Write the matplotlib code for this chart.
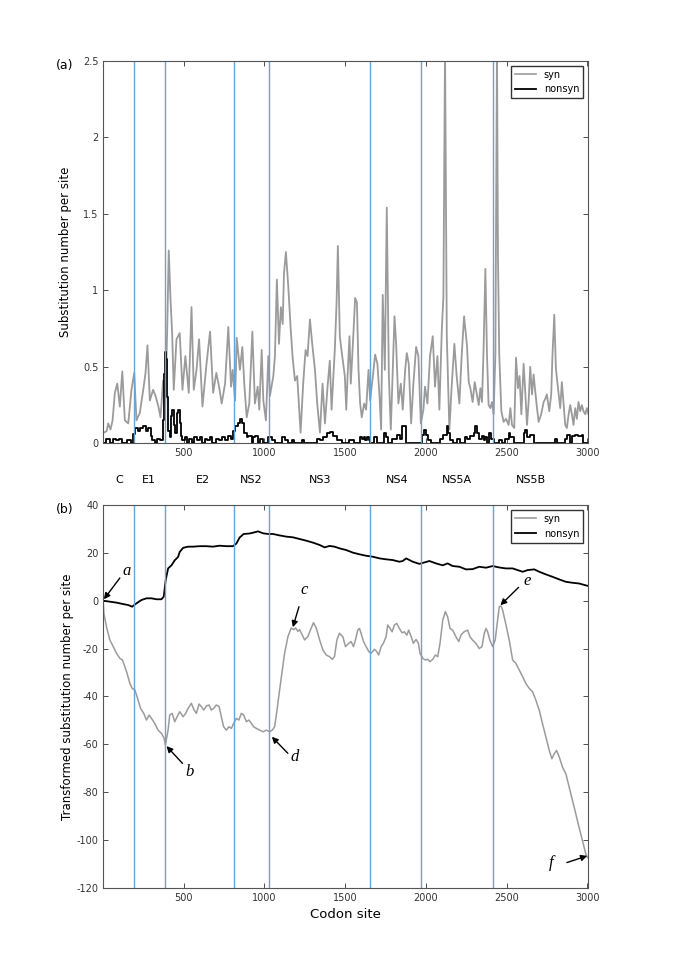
import matplotlib
matplotlib.use("Agg")
import matplotlib.pyplot as plt
from matplotlib.ticker import FormatStrFormatter
from matplotlib.lines import Line2D

plt.rcParams["font.family"] = ["DejaVu Sans"]
plt.rcParams["axes.unicode_minus"] = False

# gene boundaries (codon site) and region labels
boundaries = [191, 383, 809, 1026, 1657, 1972, 2419]
region_names = ["C", "E1", "E2", "NS2", "NS3", "NS4", "NS5A", "NS5B"]
region_sites = [100, 281, 621, 919, 1343, 1820, 2192, 2654]

# (a) windowed synonymous substitutions per site
syn_sites = [5, 22, 32, 46, 59, 73, 88, 104, 119, 135, 156, 176, 193, 207, 228, 249,
             263, 275, 290, 310, 325, 343, 356, 372, 385, 397, 407, 418, 428, 438, 455,
             475, 492, 510, 531, 548, 562, 579, 595, 616, 641, 663, 682, 702, 719,
             735, 756, 776, 793, 803, 818, 828, 848, 863, 875, 890, 906, 925, 941, 958,
             968, 983, 993, 1009, 1024, 1034, 1055, 1065, 1077, 1090, 1102, 1113, 1121,
             1133, 1148, 1162, 1174, 1189, 1203, 1224, 1240, 1255, 1267, 1282, 1296,
             1313, 1327, 1344, 1360, 1375, 1391, 1405, 1416, 1436, 1447, 1455, 1467,
             1482, 1498, 1507, 1515, 1527, 1535, 1548, 1562, 1573, 1583, 1593, 1603,
             1618, 1630, 1645, 1655, 1672, 1686, 1700, 1713, 1723, 1733, 1746, 1758,
             1771, 1783, 1795, 1806, 1816, 1830, 1845, 1857, 1872, 1882, 1894, 1909,
             1923, 1940, 1954, 1969, 1985, 1995, 2010, 2026, 2043, 2057, 2072, 2084,
             2099, 2109, 2119, 2130, 2146, 2160, 2177, 2191, 2208, 2222, 2237, 2255,
             2266, 2276, 2290, 2303, 2313, 2328, 2338, 2348, 2358, 2369, 2379, 2389,
             2400, 2410, 2420, 2431, 2441, 2447, 2455, 2468, 2482, 2497, 2513, 2524,
             2534, 2548, 2559, 2571, 2581, 2592, 2606, 2616, 2627, 2637, 2647, 2658,
             2668, 2678, 2689, 2699, 2715, 2730, 2740, 2750, 2765, 2777, 2785, 2796,
             2806, 2819, 2833, 2843, 2854, 2864, 2874, 2885, 2895, 2905, 2915, 2926,
             2936, 2946, 2957, 2967, 2977, 2988, 2998, 3008]
syn_vals = [0.07, 0.08, 0.13, 0.09, 0.15, 0.33, 0.39, 0.24, 0.47, 0.15, 0.13, 0.35, 0.46,
            0.15, 0.20, 0.35, 0.46, 0.64, 0.28, 0.35, 0.31, 0.24, 0.17, 0.41, 0.26, 0.72,
            1.26, 0.94, 0.72, 0.35, 0.68, 0.72, 0.35, 0.57, 0.33, 0.89, 0.35, 0.48, 0.68,
            0.24, 0.52, 0.73, 0.33, 0.46, 0.37,
            0.26, 0.39, 0.76, 0.37, 0.48, 0.28, 0.69, 0.48, 0.63, 0.39, 0.17, 0.26, 0.73,
            0.26, 0.37, 0.22, 0.61, 0.28, 0.15, 0.57, 0.31, 0.44, 0.57, 1.07, 0.65, 0.89,
            0.78, 1.11, 1.25, 1.02, 0.76, 0.57, 0.41, 0.44, 0.07, 0.39, 0.61, 0.57, 0.81,
            0.65, 0.48, 0.26, 0.07, 0.39, 0.13, 0.37, 0.54, 0.22, 0.61, 0.92, 1.29, 0.70,
            0.57, 0.44, 0.22, 0.44, 0.70, 0.39, 0.65, 0.95, 0.92, 0.48, 0.26, 0.17, 0.26,
            0.22, 0.48, 0.28, 0.44, 0.58, 0.52, 0.31, 0.09, 0.97, 0.48, 1.54, 0.44, 0.09,
            0.48, 0.83, 0.65, 0.26, 0.39, 0.22, 0.48, 0.59, 0.52, 0.13, 0.39, 0.63, 0.57,
            0.13, 0.22, 0.37, 0.26, 0.57, 0.70, 0.37, 0.57, 0.22, 0.74, 0.96, 2.6, 0.70,
            0.09, 0.37, 0.65, 0.44, 0.26, 0.57, 0.83, 0.64, 0.40, 0.36, 0.27, 0.40, 0.34,
            0.25, 0.36, 0.27, 0.62, 1.14, 0.58, 0.25, 0.23, 0.27, 0.19, 0.58, 2.6, 1.23,
            0.58, 0.21, 0.14, 0.16, 0.12, 0.23, 0.12, 0.10, 0.56, 0.36, 0.44, 0.19, 0.52,
            0.34, 0.12, 0.27, 0.50, 0.32, 0.45, 0.34, 0.23, 0.14, 0.19, 0.27, 0.29, 0.32,
            0.21, 0.32, 0.58, 0.84, 0.49, 0.36, 0.23, 0.40, 0.25, 0.12, 0.10, 0.19, 0.25,
            0.19, 0.12, 0.23, 0.16, 0.27, 0.21, 0.25, 0.21, 0.19, 0.23, 0.19]

# (a) nonsynonymous: step function (start site of each step, level)
non_sites = [0, 20, 45, 60, 80, 100, 120, 150, 170, 186, 195, 215, 230, 250, 265, 280,
             295, 305, 320, 335, 355, 370, 378, 384, 392, 398, 404, 412, 420, 430, 440,
             448, 456, 465, 475, 482, 492, 505, 520, 535, 550, 565, 580, 600, 615, 630,
             645, 660, 675, 700, 720, 740, 755, 775, 790, 805, 818, 834, 848, 863, 875,
             890, 900, 921, 931, 941, 958, 972, 993, 1024, 1044, 1065, 1106, 1127, 1148,
             1170, 1185, 1230, 1245, 1323, 1344, 1364, 1385, 1405, 1426, 1447, 1478,
             1521, 1552, 1593, 1603, 1614, 1624, 1634, 1645, 1655, 1676, 1700, 1738,
             1754, 1768, 1789, 1820, 1837, 1851, 1878, 1975, 1989, 2002, 2016, 2030,
             2088, 2109, 2130, 2140, 2150, 2171, 2191, 2212, 2243, 2255, 2276, 2297,
             2307, 2317, 2332, 2348, 2358, 2369, 2379, 2394, 2406, 2420, 2451, 2472,
             2493, 2513, 2524, 2544, 2606, 2616, 2627, 2647, 2668, 2798, 2812, 2864,
             2874, 2895, 2905, 2926, 2946, 2967, 2977, 3010]
non_vals = [0.0, 0.03, 0.0, 0.03, 0.02, 0.03, 0.0, 0.02, 0.0, 0.06, 0.10, 0.08, 0.10,
            0.11, 0.08, 0.10, 0.05, 0.02, 0.0, 0.03, 0.02, 0.15, 0.45, 0.60, 0.55, 0.30,
            0.08, 0.04, 0.18, 0.22, 0.12, 0.07, 0.20, 0.22, 0.13, 0.05, 0.02, 0.04, 0.0,
            0.03, 0.0, 0.04, 0.02, 0.04, 0.0, 0.03, 0.02, 0.04, 0.0, 0.03, 0.02, 0.04,
            0.02, 0.05, 0.03, 0.08, 0.11, 0.13, 0.16, 0.13, 0.07, 0.04, 0.05, 0.0, 0.04,
            0.05, 0.0, 0.03, 0.0, 0.04, 0.02, 0.0, 0.04, 0.02, 0.0, 0.02, 0.0, 0.02, 0.0,
            0.03, 0.02, 0.04, 0.065, 0.076, 0.05, 0.02, 0.0,
            0.02, 0.0, 0.04, 0.03, 0.04, 0.02, 0.04, 0.02, 0.0, 0.04, 0.0, 0.065, 0.04,
            0.0, 0.03, 0.055, 0.03, 0.11, 0.0, 0.055, 0.09, 0.055, 0.02, 0.0, 0.03, 0.055,
            0.11, 0.065, 0.02, 0.0, 0.03, 0.0, 0.04, 0.03, 0.05, 0.07, 0.11, 0.07, 0.03,
            0.05, 0.02, 0.04, 0.0, 0.065, 0.03, 0.0, 0.02, 0.0, 0.03, 0.065, 0.04, 0.0,
            0.065, 0.09, 0.04, 0.055, 0.0, 0.03, 0.0, 0.03, 0.055, 0.0, 0.045, 0.055,
            0.045, 0.055, 0.0, 0.0]

# (b) transformed (cumulative) substitution numbers
tsyn_sites = [1, 5, 21, 42, 63, 83, 104, 120, 135, 149, 166, 180, 197, 217, 232, 252, 269,
              285, 300, 320, 341, 362, 378, 386, 403, 413, 428, 444, 459, 475, 496, 512,
              527, 547, 564, 578, 595, 609, 624, 640, 657, 671, 686, 702, 719, 733, 747,
              764, 780, 795, 809, 826, 842, 857, 871, 888, 904, 919, 933, 950, 970, 991,
              1012, 1032, 1049, 1063, 1078, 1094, 1111, 1125, 1146, 1166, 1181, 1193,
              1207, 1218, 1234, 1249, 1269, 1286, 1304, 1321, 1342, 1362, 1383, 1403,
              1420, 1434, 1449, 1465, 1486, 1502, 1523, 1537, 1552, 1564, 1578, 1589,
              1599, 1614, 1630, 1647, 1661, 1682, 1696, 1708, 1723, 1737, 1754, 1764,
              1779, 1791, 1805, 1820, 1836, 1853, 1867, 1882, 1894, 1909, 1923, 1939,
              1954, 1964, 1981, 1997, 2012, 2026, 2043, 2059, 2074, 2088, 2105, 2121,
              2135, 2150, 2166, 2187, 2204, 2218, 2239, 2259, 2274, 2290, 2311, 2331,
              2348, 2362, 2373, 2383, 2397, 2414, 2430, 2445, 2455, 2466, 2476, 2497,
              2517, 2538, 2558, 2579, 2600, 2620, 2641, 2662, 2682, 2703, 2723, 2744,
              2765, 2781, 2796, 2810, 2827, 2847, 2868, 2889, 2909, 2930, 2950, 2971,
              2992, 3002]
tsyn_vals = [0, -5.3, -10.9, -16.4, -19.2, -22.0, -24.1, -24.8, -27.6, -30.4, -34.6,
             -36.6, -37.3, -41.5, -45.0, -47.1, -49.9, -47.8, -49.2, -51.3, -54.1, -55.5,
             -57.5, -60.3, -54.1, -47.8, -47.1, -50.6, -48.5, -46.4, -48.5, -47.1, -45.0,
             -42.9, -45.7, -47.1, -43.2, -44.3, -45.7, -44.0, -43.6, -45.7, -45.0, -43.6,
             -44.3, -48.5, -52.7, -54.1, -52.7, -53.4, -51.3, -49.2, -49.9, -47.1, -47.8,
             -50.6, -49.9, -51.3, -52.7, -53.4, -54.1, -54.8, -54.1, -54.8, -54.1, -52.7,
             -45.7, -37.3, -28.9, -21.9, -14.9, -11.4, -12.1, -11.4, -12.8, -12.1, -14.3,
             -16.4, -15.0, -12.1, -9.2, -11.4, -16.4, -20.6, -22.7, -23.4, -24.5, -23.4,
             -16.4, -13.6, -15.1, -19.2, -17.8, -17.1, -19.2, -16.4, -12.3, -11.6, -13.7,
             -17.1, -19.2, -21.3, -22.0, -20.3, -21.3, -22.7, -19.2, -17.8, -15.0, -10.2,
             -11.6, -13.0, -10.2, -9.5, -11.6, -13.4, -13.0, -14.4, -12.3, -15.0, -17.8,
             -16.2, -17.8, -22.0, -24.1, -24.8, -24.5, -25.5, -24.5, -22.7, -23.4, -17.8,
             -8.1, -4.6, -6.7, -11.6, -12.3, -15.1, -17.1, -14.3, -12.9, -12.3, -15.1,
             -16.5, -17.9, -20.0, -19.2, -13.7, -11.6, -13.0, -16.5, -19.2, -16.4, -8.1,
             -2.5, -2.2, -3.9, -10.2, -16.5, -24.8, -26.2, -29.0, -31.8, -34.6, -36.7,
             -38.1, -41.6, -45.8, -51.4, -57.0, -62.6, -66.1, -64.0, -62.6, -65.4, -69.6,
             -72.4, -78.1, -83.7, -89.3, -94.9, -100.5, -106.0, -107.4]
tnon_sites = [1, 42, 83, 124, 155, 180, 207, 238, 269, 300, 331, 362, 376, 388, 403, 424,
              444, 465, 475, 496, 527, 558, 599, 640, 681, 723, 764, 805, 826, 846, 871,
              908, 939, 960, 991, 1022, 1053, 1094, 1135, 1177, 1218, 1259, 1300, 1342,
              1373, 1403, 1434, 1465, 1506, 1548, 1589, 1630, 1671, 1713, 1754, 1795,
              1836, 1857, 1878, 1919, 1960, 1991, 2022, 2063, 2105, 2135, 2166, 2208,
              2249, 2290, 2331, 2373, 2414, 2455, 2496, 2538, 2569, 2600, 2631, 2672,
              2703, 2744, 2785, 2827, 2868, 2909, 2950, 2992, 3005]
tnon_vals = [0, -0.4, -0.8, -1.4, -1.8, -2.5, -1.1, 0.3, 1.0, 1.0, 0.6, 0.6, 1.7, 8.6,
             13.5, 14.8, 16.9, 18.3, 20.4, 22.1, 22.6, 22.6, 22.8, 22.8, 22.6, 23.0, 22.8,
             22.8, 23.9, 26.4, 27.9, 28.1, 28.6, 29.0, 28.2, 27.9, 27.9, 27.3, 26.8, 26.5,
             25.8, 25.1, 24.3, 23.3, 22.3, 22.9, 22.6, 21.9, 21.2, 20.1, 19.4, 18.8, 18.4,
             17.7, 17.3, 17.0, 16.3, 16.6, 17.7, 16.3, 15.4, 16.0, 16.6, 15.6, 14.8, 15.6,
             14.5, 14.2, 13.1, 13.2, 14.2, 13.8, 14.5, 13.9, 13.5, 13.5, 12.8, 12.1, 12.8,
             13.1, 12.1, 11.0, 10.0, 8.9, 7.9, 7.5, 7.2, 6.4, 6.2]

# labelled points in (b): letter, text pos, arrow tail, arrow tip
marks = ["a", "b", "c", "d", "e", "f"]
mark_text = [(145, 12.4), (537, -71.5), (1249, 4.5), (1190, -65.5), (2627, 8.2), (2775, -109.8)]
mark_tail = [(104, 9.5), (492, -68.0), (1214, -2.5), (1145, -63.8), (2575, 5.6), (2874, -109.5)]
mark_tip = [(5, 0.6), (393, -60.8), (1176, -11.1), (1046, -56.9), (2462, -1.9), (3000, -106.7)]

GRAY = "#9b9b9b"
BLUE = "#64a3dc"


def style(ax):
    ax.set_xlim(1, 3005)
    ax.set_xticks([500, 1000, 1500, 2000, 2500, 3000])
    ax.tick_params(direction="in", top=True, right=True, length=3.5, width=0.6,
                   labelsize=7, colors="#333333")
    for s in ax.spines.values():
        s.set_linewidth(0.8)
        s.set_color("#555555")


fig = plt.figure(figsize=(6.85, 9.69), dpi=100)
ax1 = fig.add_axes([0.1507, 0.5425, 0.7077, 0.3948])
ax2 = fig.add_axes([0.1507, 0.0839, 0.7077, 0.3949])

# ---- (a)
ax1.plot(syn_sites, syn_vals, color=GRAY, lw=1.3)
ax1.step(non_sites, non_vals, where="post", color="k", lw=1.3)
for b in boundaries:
    ax1.axvline(b, color=BLUE, lw=1.0)
style(ax1)
ax1.set_ylim(0, 2.5)
ax1.set_yticks([0, 0.5, 1, 1.5, 2, 2.5])
ax1.yaxis.set_major_formatter(FormatStrFormatter("%g"))
ax1.set_ylabel("Substitution number per site", fontsize=8.5, labelpad=8)
fig.text(0.081, 0.929, "(a)", fontsize=9)
handles = [Line2D([], [], color=GRAY, lw=1.2), Line2D([], [], color="k", lw=1.3)]
ax1.legend(handles, ["syn", "nonsyn"], loc="upper right", fontsize=7, fancybox=False,
           edgecolor="#333333", framealpha=1, handlelength=2.2, borderaxespad=0.5)

# ---- (b)
ax2.plot(tsyn_sites, tsyn_vals, color=GRAY, lw=1.1)
ax2.plot(tnon_sites, tnon_vals, color="k", lw=1.3)
for b in boundaries:
    ax2.axvline(b, color=BLUE, lw=1.0)
style(ax2)
ax2.set_ylim(-120, 40)
ax2.set_yticks(range(-120, 41, 20))
ax2.set_ylabel("Transformed substitution number per site", fontsize=8.5, labelpad=2)
ax2.set_xlabel("Codon site", fontsize=9.5, labelpad=4)
fig.text(0.081, 0.471, "(b)", fontsize=9)
ax2.legend(handles, ["syn", "nonsyn"], loc="upper right", fontsize=7, fancybox=False,
           edgecolor="#333333", framealpha=1, handlelength=2.2, borderaxespad=0.5)

for name, x in zip(region_names, region_sites):
    ax2.text(x, 1.066, name, transform=ax2.get_xaxis_transform(), ha="center",
             va="center", fontsize=8, clip_on=False)

for m, t, tail, tip in zip(marks, mark_text, mark_tail, mark_tip):
    ax2.annotate("", xy=tip, xytext=tail,
                 arrowprops=dict(arrowstyle="-|>", color="k", lw=1.0,
                                 mutation_scale=9, shrinkA=0, shrinkB=0))
    ax2.text(t[0], t[1], m, ha="center", va="center", fontsize=12,
             family="Liberation Serif", style="italic")

fig.savefig("out.png", dpi=100)
